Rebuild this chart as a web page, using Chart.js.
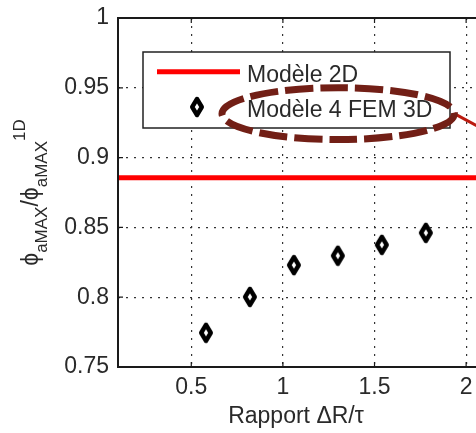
<!DOCTYPE html>
<html><head><meta charset="utf-8">
<script src="https://cdn.jsdelivr.net/npm/chart.js@4/dist/chart.umd.min.js"></script>
<style>
html,body{margin:0;padding:0;overflow:hidden;background:#fff;width:476px;height:433px}
#wrap{position:absolute;left:0;top:0;width:695px;height:433px}
canvas{display:block}
</style></head><body>
<div id="wrap"><canvas id="c" width="695" height="433"></canvas></div>
<script>
// ---- data ----
const ratioFEM = [0.58, 0.82, 1.06, 1.30, 1.54, 1.78];
const phiFEM   = [0.7745, 0.8002, 0.823, 0.8297, 0.8375, 0.8461];
const ratio2D  = [0.1, 3.2];
const phi2D    = [0.8855, 0.8855];
const xTickValues = [0.5, 1, 1.5, 2, 2.5, 3];
const yTickValues = [0.75, 0.8, 0.85, 0.9, 0.95, 1];
const legendLabels = ['Modèle 2D', 'Modèle 4 FEM 3D'];
const xTitle = 'Rapport ΔR/τ';
const yTitleRuns = [['ϕ','base'],['aMAX','sub'],['/','base'],['ϕ','base'],['aMAX','sub'],['1D','sup']];
// callout annotation (data units): ellipse centre/radii and leader line end
const calloutEllipse = [1.3016, 0.9315, 0.634, 0.0186];
const calloutLeader  = [2.154, 0.916];

const FONT = "'Liberation Sans', Arial, Helvetica, sans-serif";
const TXT = '#2a2a2a';

// diamond marker
function makeDiamond(){
  const c = document.createElement('canvas');
  c.width = 18; c.height = 24;
  const g = c.getContext('2d');
  g.beginPath();
  g.moveTo(9, 4); g.lineTo(13.8, 12); g.lineTo(9, 20); g.lineTo(4.2, 12); g.closePath();
  g.fillStyle = '#fff'; g.fill();
  g.lineWidth = 4.4; g.lineJoin = 'round'; g.strokeStyle = '#000'; g.stroke();
  return c;
}
const diamond = makeDiamond();

const decor = {
  id: 'decor',
  afterDraw(chart){
    const ctx = chart.ctx, a = chart.chartArea;
    const xs = chart.scales.x, ys = chart.scales.y;
    ctx.save();
    // axes frame
    ctx.strokeStyle = '#1a1a1a'; ctx.lineWidth = 2;
    ctx.strokeRect(a.left, a.top, a.right - a.left, a.bottom - a.top);
    // small inward ticks
    ctx.lineWidth = 1.2;
    ctx.beginPath();
    xTickValues.forEach(v => { const px = xs.getPixelForValue(v);
      ctx.moveTo(px, a.bottom); ctx.lineTo(px, a.bottom - 5);
      ctx.moveTo(px, a.top); ctx.lineTo(px, a.top + 5); });
    yTickValues.forEach(v => { const py = ys.getPixelForValue(v);
      ctx.moveTo(a.left, py); ctx.lineTo(a.left + 5, py); });
    ctx.stroke();

    // legend box
    const lx = 143, ly = 52, lw = 307, lh = 76;
    ctx.fillStyle = '#fff';
    ctx.fillRect(lx, ly, lw, lh);
    ctx.strokeStyle = '#222'; ctx.lineWidth = 1.5;
    ctx.strokeRect(lx, ly, lw, lh);
    ctx.strokeStyle = '#ff0000'; ctx.lineWidth = 5;
    ctx.beginPath(); ctx.moveTo(157, 71.7); ctx.lineTo(240, 71.7); ctx.stroke();
    ctx.drawImage(diamond, 197 - 9, 107 - 12);
    ctx.fillStyle = TXT; ctx.font = '23px ' + FONT; ctx.textBaseline = 'alphabetic'; ctx.textAlign = 'left';
    ctx.fillText(legendLabels[0], 247, 81.7);
    ctx.fillText(legendLabels[1], 247, 117.3);

    // callout ellipse + leader
    const cx = xs.getPixelForValue(calloutEllipse[0]);
    const cy = ys.getPixelForValue(calloutEllipse[1]);
    const rx = xs.getPixelForValue(calloutEllipse[0] + calloutEllipse[2]) - cx;
    const ry = cy - ys.getPixelForValue(calloutEllipse[1] + calloutEllipse[3]);
    ctx.strokeStyle = '#bb1a0e'; ctx.lineWidth = 3; ctx.setLineDash([]);
    ctx.beginPath(); ctx.moveTo(cx + rx, cy);
    ctx.lineTo(xs.getPixelForValue(calloutLeader[0]), ys.getPixelForValue(calloutLeader[1])); ctx.stroke();
    ctx.strokeStyle = '#721f16'; ctx.lineWidth = 7; ctx.setLineDash([28, 7]);
    ctx.beginPath(); ctx.ellipse(cx, cy, rx, ry, 0, Math.PI, 3 * Math.PI); ctx.stroke();
    ctx.setLineDash([]);

    // x title
    ctx.fillStyle = TXT; ctx.font = '23px ' + FONT; ctx.textAlign = 'center';
    ctx.fillText(xTitle, 296, 423);

    // y title with sub/superscripts, rotated
    const sizes = {base: 23, sub: 17, sup: 17};
    const shift = {base: 0, sub: 9, sup: -13};
    let total = 0;
    yTitleRuns.forEach(([t, k]) => { ctx.font = sizes[k] + 'px ' + FONT; total += ctx.measureText(t).width; });
    ctx.translate(38, (a.top + a.bottom) / 2);
    ctx.rotate(-Math.PI / 2);
    ctx.textAlign = 'left';
    let u = -total / 2;
    yTitleRuns.forEach(([t, k]) => {
      ctx.font = sizes[k] + 'px ' + FONT;
      ctx.fillText(t, u, shift[k]);
      u += ctx.measureText(t).width;
    });
    ctx.restore();
  }
};

const noPad = s => { s.paddingTop = 0; s.paddingBottom = 0; s.paddingLeft = 0; s.paddingRight = 0; };

new Chart(document.getElementById('c'), {
  type: 'scatter',
  data: {
    datasets: [
      { label: legendLabels[0], data: ratio2D.map((x, i) => ({x, y: phi2D[i]})),
        showLine: true, borderColor: '#ff0000', backgroundColor: '#ff0000', borderWidth: 5,
        pointRadius: 0, order: 2 },
      { label: legendLabels[1], data: ratioFEM.map((x, i) => ({x, y: phiFEM[i]})),
        showLine: false, pointStyle: diamond, pointRadius: 8, order: 1 }
    ]
  },
  options: {
    responsive: false, animation: false, devicePixelRatio: 1,
    layout: { padding: { top: 18, left: 0, right: 0, bottom: 0 } },
    plugins: { legend: { display: false }, tooltip: { enabled: false } },
    scales: {
      x: {
        type: 'linear', min: 0.1, max: 3.2,
        afterBuildTicks: s => { s.ticks = xTickValues.map(v => ({value: v})); },
        afterFit: s => { s.height = 66; noPad(s); },
        ticks: { font: { size: 23, family: FONT }, color: TXT, padding: 7, maxRotation: 0,
                 callback: v => String(+(+v).toFixed(2)) },
        grid: { color: '#333', lineWidth: 1.2, drawTicks: false },
        border: { display: false, dash: [2, 6] }
      },
      y: {
        type: 'linear', min: 0.75, max: 1,
        afterBuildTicks: s => { s.ticks = yTickValues.map(v => ({value: v})); },
        afterFit: s => { s.width = 118; noPad(s); },
        ticks: { font: { size: 23, family: FONT }, color: TXT, padding: 9,
                 callback: v => String(+(+v).toFixed(2)) },
        grid: { color: '#333', lineWidth: 1.2, drawTicks: false },
        border: { display: false, dash: [2, 6] }
      }
    }
  },
  plugins: [decor]
});
</script>
</body></html>
